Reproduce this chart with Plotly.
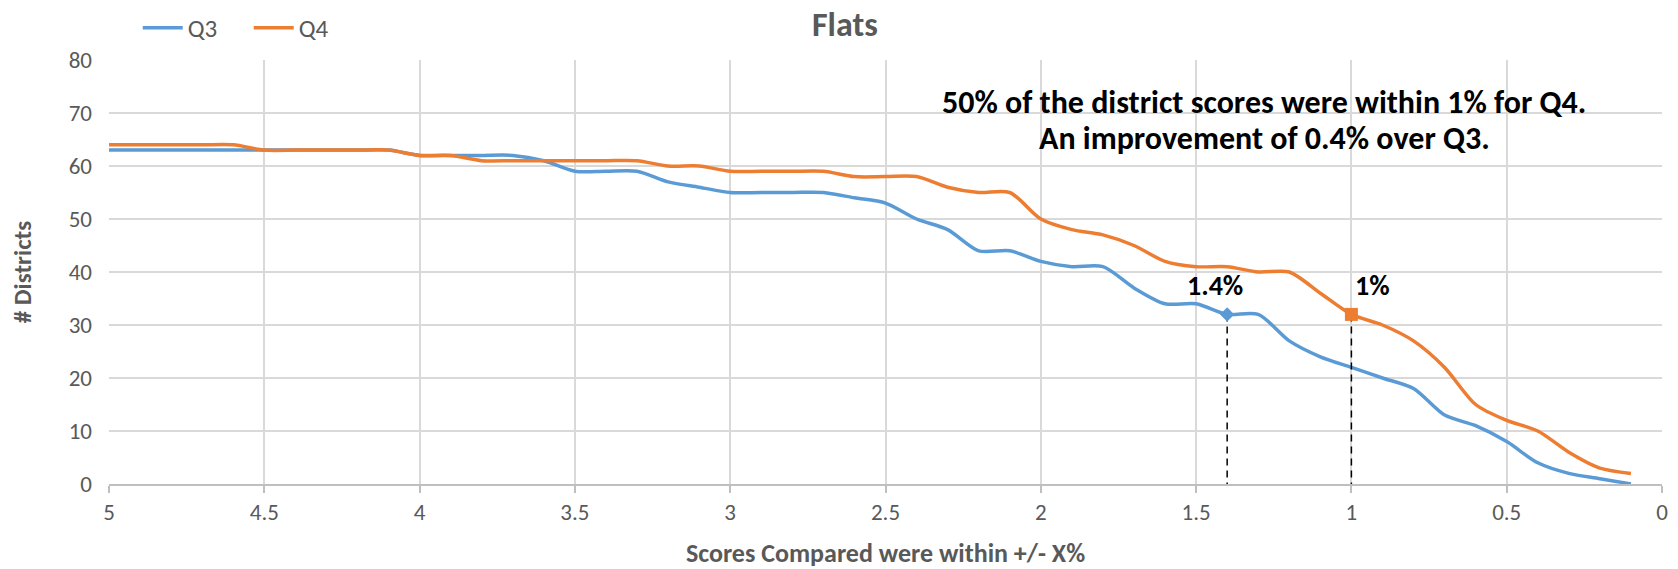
import plotly.graph_objects as go

# Tolerance thresholds (+/- %), plotted from 5 down to 0.1
thresholds = [5.0, 4.9, 4.8, 4.7, 4.6, 4.5, 4.4, 4.3, 4.2, 4.1,
              4.0, 3.9, 3.8, 3.7, 3.6, 3.5, 3.4, 3.3, 3.2, 3.1,
              3.0, 2.9, 2.8, 2.7, 2.6, 2.5, 2.4, 2.3, 2.2, 2.1,
              2.0, 1.9, 1.8, 1.7, 1.6, 1.5, 1.4, 1.3, 1.2, 1.1,
              1.0, 0.9, 0.8, 0.7, 0.6, 0.5, 0.4, 0.3, 0.2, 0.1]

q3_districts = [63, 63, 63, 63, 63, 63, 63, 63, 63, 63,
                62, 62, 62, 62, 61, 59, 59, 59, 57, 56,
                55, 55, 55, 55, 54, 53, 50, 48, 44, 44,
                42, 41, 41, 37, 34, 34, 32, 32, 27, 24,
                22, 20, 18, 13, 11, 8, 4, 2, 1, 0]

q4_districts = [64, 64, 64, 64, 64, 63, 63, 63, 63, 63,
                62, 62, 61, 61, 61, 61, 61, 61, 60, 60,
                59, 59, 59, 59, 58, 58, 58, 56, 55, 55,
                50, 48, 47, 45, 42, 41, 41, 40, 40, 36,
                32, 30, 27, 22, 15, 12, 10, 6, 3, 2]

# Highlighted half-way points
q3_mark_x, q3_mark_y, q3_mark_label = 1.4, 32, "1.4%"
q4_mark_x, q4_mark_y, q4_mark_label = 1.0, 32, "1%"

x_ticks = [5, 4.5, 4, 3.5, 3, 2.5, 2, 1.5, 1, 0.5, 0]
x_tick_text = ["5", "4.5", "4", "3.5", "3", "2.5", "2", "1.5", "1", "0.5", "0"]
y_ticks = [0, 10, 20, 30, 40, 50, 60, 70, 80]

note_lines = ["50% of the district scores were within 1% for Q4.",
              "An improvement of 0.4% over Q3."]

BLUE = "#5B9BD5"
ORANGE = "#ED7D31"
GREY = "#595959"
GRID = "#D9D9D9"
FONT = "Carlito, Calibri, Lato, sans-serif"

fig = go.Figure()

fig.add_trace(go.Scatter(
    x=thresholds, y=q3_districts, name="Q3", mode="lines",
    line=dict(color=BLUE, width=3.5, shape="spline", smoothing=0.8),
))
fig.add_trace(go.Scatter(
    x=thresholds, y=q4_districts, name="Q4", mode="lines",
    line=dict(color=ORANGE, width=3.5, shape="spline", smoothing=0.8),
))

# Dashed drop lines from the highlighted points to the axis
for mx, my in [(q3_mark_x, q3_mark_y), (q4_mark_x, q4_mark_y)]:
    fig.add_trace(go.Scatter(
        x=[mx, mx], y=[my, 0], mode="lines", showlegend=False, hoverinfo="skip",
        line=dict(color="black", width=1.5, dash="7px,5px"),
    ))

fig.add_trace(go.Scatter(
    x=[q3_mark_x], y=[q3_mark_y], mode="markers", showlegend=False,
    marker=dict(symbol="diamond", size=11, color=BLUE),
))
fig.add_trace(go.Scatter(
    x=[q4_mark_x], y=[q4_mark_y], mode="markers", showlegend=False,
    marker=dict(symbol="square", size=13, color=ORANGE),
))

# Point labels above the highlighted points
fig.add_annotation(x=q3_mark_x, y=q3_mark_y, text=f"<b>{q3_mark_label}</b>",
                   showarrow=False, xshift=-12, yshift=29,
                   font=dict(family=FONT, size=28, color="black"))
fig.add_annotation(x=q4_mark_x, y=q4_mark_y, text=f"<b>{q4_mark_label}</b>",
                   showarrow=False, xshift=21, yshift=29,
                   font=dict(family=FONT, size=28, color="black"))

# Commentary text
for line, yp in zip(note_lines, [0.899, 0.814]):
    fig.add_annotation(x=0.744, y=yp, xref="paper", yref="paper", showarrow=False,
                       text=f"<b>{line}</b>", xanchor="center", yanchor="middle",
                       font=dict(family=FONT, size=32, color="black"))

fig.update_layout(
    width=1678, height=569,
    margin=dict(l=109, r=16, t=60, b=85, autoexpand=False),
    paper_bgcolor="white", plot_bgcolor="white",
    font=dict(family=FONT, color=GREY, size=23),
    title=dict(text="<b>Flats</b>", x=0.5035, xanchor="center", y=0.958, yanchor="middle",
               font=dict(family=FONT, size=34, color=GREY)),
    legend=dict(orientation="h", x=0.0185, xanchor="left", y=1.0755, yanchor="middle",
                font=dict(family=FONT, size=25, color=GREY), bgcolor="rgba(0,0,0,0)",
                itemwidth=40, entrywidth=56, entrywidthmode="pixels"),
    showlegend=True,
)

fig.update_xaxes(
    range=[5, 0], tickvals=x_ticks, ticktext=x_tick_text,
    showgrid=True, gridcolor=GRID, gridwidth=1.5,
    showline=True, linecolor="#BFBFBF", linewidth=1.5,
    ticks="outside", ticklen=7, tickcolor="#BFBFBF", tickwidth=1.5,
    zeroline=False,
    title=dict(text="<b>Scores Compared were within +/- X%</b>", standoff=23,
               font=dict(family=FONT, size=26, color=GREY)),
    tickfont=dict(family=FONT, size=23, color=GREY),
)
fig.update_yaxes(
    range=[0, 80], tickvals=y_ticks,
    showgrid=True, gridcolor=GRID, gridwidth=1.5,
    zeroline=False, showline=False,
    ticks="", ticklabelstandoff=16,
    title=dict(text="<b># Districts</b>", standoff=29,
               font=dict(family=FONT, size=25, color=GREY)),
    tickfont=dict(family=FONT, size=23, color=GREY),
)

fig.write_html("out.html")
